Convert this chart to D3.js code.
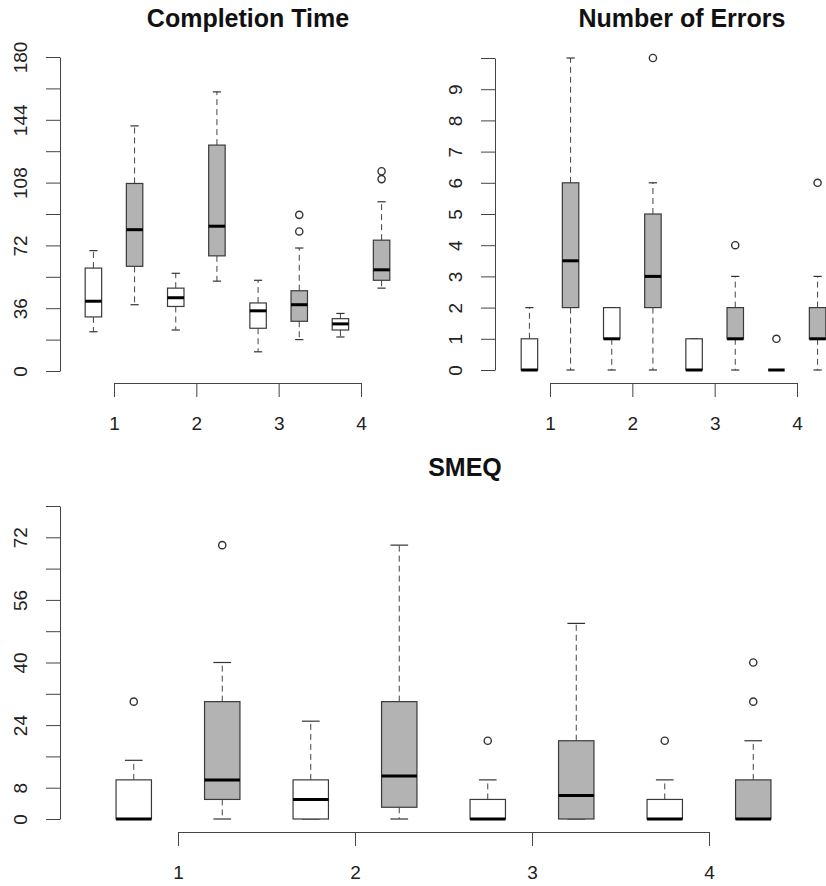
<!DOCTYPE html>
<html>
<head>
<meta charset="utf-8">
<script src="https://cdn.jsdelivr.net/npm/d3@7"></script>
<style>
  body { margin: 0; background: #fff; }
  text { font-family: "Liberation Sans", Arial, Helvetica, sans-serif; }
</style>
</head>
<body>
<div id="chart"></div>
<script>
// groups 1..4, each with a white (A) and a gray (B) condition
// order of every array: 1A, 1B, 2A, 2B, 3A, 3B, 4A, 4B
const groups = [1, 2, 3, 4];
const boxPos = [0.75, 1.25, 1.75, 2.25, 2.75, 3.25, 3.75, 4.25];
const boxFill = ['white', 'gray', 'white', 'gray', 'white', 'gray', 'white', 'gray'];

// Completion Time
const timeLow  = [22.5, 38, 23.5, 51.5, 11, 18, 19.5, 47.5];
const timeQ1   = [31, 60, 37, 66, 24.5, 28.5, 23.5, 52];
const timeMed  = [40, 81, 42, 83, 34.5, 38, 27, 58];
const timeQ3   = [59, 107.5, 47.5, 129.5, 39, 46, 30, 75];
const timeHigh = [69, 140.5, 56, 160, 52, 70.5, 33, 97];
const timeOut  = [[], [], [], [], [], [80, 89.5], [], [110, 114.5]];
const timeTicks = [0, 18, 36, 54, 72, 90, 108, 126, 144, 162, 180];
const timeLabels = [0, 36, 72, 108, 144, 180];

// Number of Errors
const errLow  = [0, 0, 0, 0, 0, 0, 0, 0];
const errQ1   = [0, 2, 1, 2, 0, 1, 0, 1];
const errMed  = [0, 3.5, 1, 3, 0, 1, 0, 1];
const errQ3   = [1, 6, 2, 5, 1, 2, 0, 2];
const errHigh = [2, 10, 2, 6, 1, 3, 0, 3];
const errOut  = [[], [], [], [10], [], [4], [1], [6]];
const errTicks = [0, 1, 2, 3, 4, 5, 6, 7, 8, 9, 10];
const errLabels = [0, 1, 2, 3, 4, 5, 6, 7, 8, 9];

// SMEQ
const smeqLow  = [0, 0, 0, 0, 0, 0, 0, 0];
const smeqQ1   = [0, 5, 0, 3, 0, 0, 0, 0];
const smeqMed  = [0, 10, 5, 11, 0, 6, 0, 0];
const smeqQ3   = [10, 30, 10, 30, 5, 20, 5, 10];
const smeqHigh = [15, 40, 25, 70, 10, 50, 10, 20];
const smeqOut  = [[30], [70], [], [], [20], [], [20], [30, 40]];
const smeqTicks = [0, 8, 16, 24, 32, 40, 48, 56, 64, 72, 80];
const smeqLabels = [0, 8, 24, 40, 56, 72];

const svgWidth = 826;
const svgHeight = 886;

const svg = d3.select('#chart')
    .append('svg')
    .attr('width', svgWidth)
    .attr('height', svgHeight);

svg.append('rect')
    .attr('width', svgWidth)
    .attr('height', svgHeight)
    .attr('fill', 'white');

function drawPanel(p) {
    const x = d3.scaleLinear().domain([1, 4]).range(p.xRange);
    const y = d3.scaleLinear().domain(p.yDomain).range(p.yRange);
    const halfW = (x(1.1) - x(1));
    const g = svg.append('g');

    // y axis
    const yAxis = g.append('g')
        .attr('transform', `translate(${p.yAxisX},0)`)
        .call(d3.axisLeft(y)
            .tickValues(p.ticks)
            .tickSize(14)
            .tickSizeOuter(0)
            .tickFormat(d => p.labels.includes(d) ? d : ''));
    yAxis.select('.domain').attr('stroke', '#444');
    yAxis.selectAll('.tick line').attr('stroke', '#444');
    yAxis.selectAll('.tick text')
        .attr('x', 0)
        .attr('y', 0)
        .attr('dy', 0)
        .attr('transform', 'translate(-33,0) rotate(-90)')
        .attr('text-anchor', 'middle')
        .attr('fill', '#222')
        .style('font-size', '19px');

    // x axis
    const xAxis = g.append('g')
        .attr('transform', `translate(0,${p.xAxisY})`)
        .call(d3.axisBottom(x)
            .tickValues(groups)
            .tickFormat(d3.format('d'))
            .tickSize(14)
            .tickSizeOuter(0)
            .tickPadding(20));
    xAxis.select('.domain').attr('stroke', '#444');
    xAxis.selectAll('.tick line').attr('stroke', '#444');
    xAxis.selectAll('.tick text')
        .attr('fill', '#222')
        .style('font-size', '19px');

    // title
    g.append('text')
        .attr('x', p.titleX)
        .attr('y', p.titleY)
        .attr('text-anchor', 'middle')
        .attr('font-weight', 'bold')
        .style('font-size', '25px')
        .attr('fill', '#111')
        .text(p.title);

    // boxes
    boxPos.forEach((pos, i) => {
        const cx = x(pos);
        const bx = g.append('g');

        // whiskers
        if (p.high[i] > p.q3[i]) {
            bx.append('line')
                .attr('x1', cx).attr('x2', cx)
                .attr('y1', y(p.q3[i])).attr('y2', y(p.high[i]))
                .attr('stroke', '#444')
                .attr('stroke-dasharray', '6,4');
        }
        if (p.low[i] < p.q1[i]) {
            bx.append('line')
                .attr('x1', cx).attr('x2', cx)
                .attr('y1', y(p.q1[i])).attr('y2', y(p.low[i]))
                .attr('stroke', '#444')
                .attr('stroke-dasharray', '6,4');
        }
        // staples
        [p.low[i], p.high[i]].forEach(v => {
            bx.append('line')
                .attr('x1', cx - halfW / 2).attr('x2', cx + halfW / 2)
                .attr('y1', y(v)).attr('y2', y(v))
                .attr('stroke', '#333')
                .attr('stroke-width', 1.2);
        });

        // box
        bx.append('rect')
            .attr('x', cx - halfW)
            .attr('y', y(p.q3[i]))
            .attr('width', halfW * 2)
            .attr('height', Math.max(0, y(p.q1[i]) - y(p.q3[i])))
            .attr('fill', boxFill[i] === 'gray' ? '#b3b3b3' : 'white')
            .attr('stroke', '#3a3a3a')
            .attr('stroke-width', 1.2);

        // median
        bx.append('line')
            .attr('x1', cx - halfW).attr('x2', cx + halfW)
            .attr('y1', y(p.med[i])).attr('y2', y(p.med[i]))
            .attr('stroke', 'black')
            .attr('stroke-width', 3);

        // outliers
        bx.selectAll('circle')
            .data(p.out[i])
            .enter()
            .append('circle')
            .attr('cx', cx)
            .attr('cy', d => y(d))
            .attr('r', 3.6)
            .attr('fill', 'none')
            .attr('stroke', '#333')
            .attr('stroke-width', 1.4);
    });
}

drawPanel({
    title: 'Completion Time', titleX: 248, titleY: 27,
    xRange: [114, 361], xAxisY: 383, yAxisX: 60,
    yDomain: [0, 180], yRange: [371, 57],
    ticks: timeTicks, labels: timeLabels,
    low: timeLow, q1: timeQ1, med: timeMed, q3: timeQ3, high: timeHigh, out: timeOut
});

drawPanel({
    title: 'Number of Errors', titleX: 682, titleY: 27,
    xRange: [550, 797], xAxisY: 383, yAxisX: 495,
    yDomain: [0, 10], yRange: [370, 58],
    ticks: errTicks, labels: errLabels,
    low: errLow, q1: errQ1, med: errMed, q3: errQ3, high: errHigh, out: errOut
});

drawPanel({
    title: 'SMEQ', titleX: 465, titleY: 476,
    xRange: [178, 709], xAxisY: 832, yAxisX: 60,
    yDomain: [0, 80], yRange: [819, 506],
    ticks: smeqTicks, labels: smeqLabels,
    low: smeqLow, q1: smeqQ1, med: smeqMed, q3: smeqQ3, high: smeqHigh, out: smeqOut
});
</script>
</body>
</html>
